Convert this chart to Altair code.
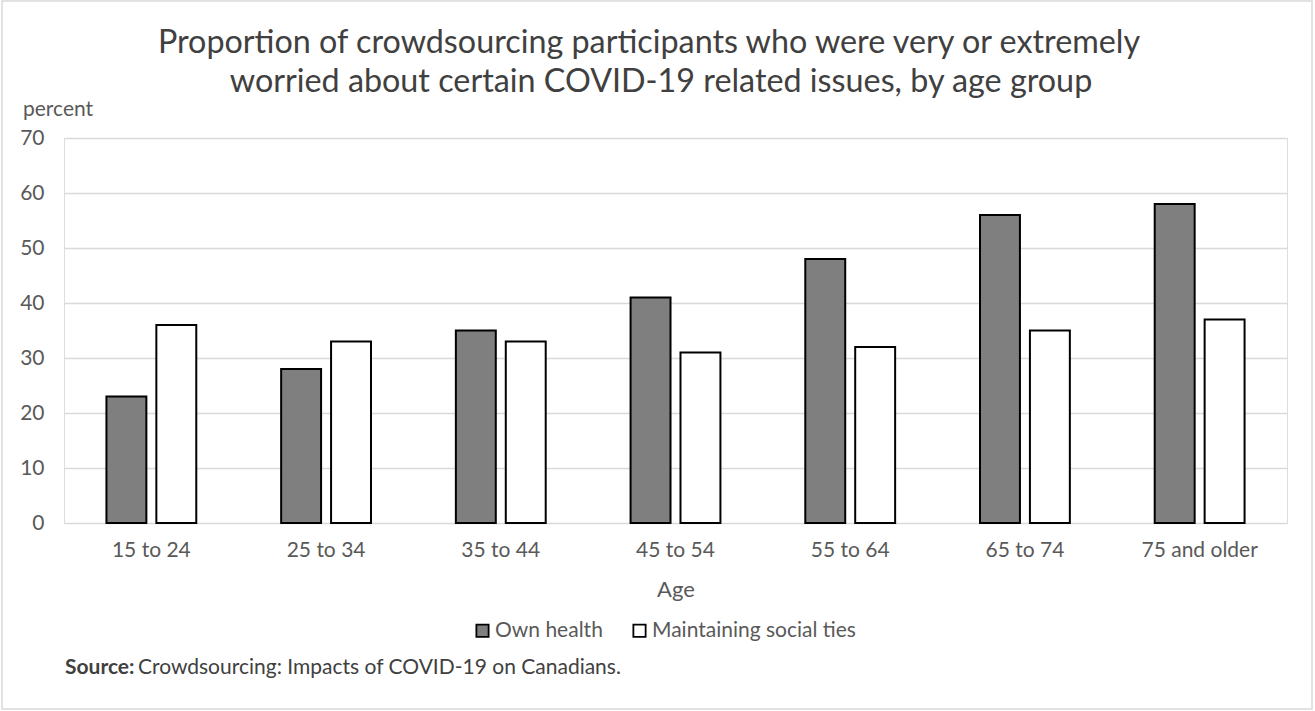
import altair as alt
import pandas as pd

ages = ["15 to 24", "25 to 34", "35 to 44", "45 to 54", "55 to 64", "65 to 74", "75 and older"]
series = ["Own health", "Maintaining social ties"]
own_health = [23, 28, 35, 41, 48, 56, 58]
social_ties = [36, 33, 33, 31, 32, 35, 37]
y_ticks = [0, 10, 20, 30, 40, 50, 60, 70]
title_lines = ["Proportion of crowdsourcing participants who were very or extremely",
               "worried about certain COVID-19 related issues, by age group"]

rows = []
for a, v in zip(ages, own_health):
    rows.append({"Age": a, "Series": series[0], "Value": v})
for a, v in zip(ages, social_ties):
    rows.append({"Age": a, "Series": series[1], "Value": v})
df = pd.DataFrame(rows)

FONT = "Lato"
W, H = 1223, 385

bars = alt.Chart(df).mark_bar(stroke="black", strokeWidth=2).encode(
    x=alt.X("Age:N", sort=ages,
            scale=alt.Scale(paddingInner=0, paddingOuter=0),
            axis=alt.Axis(title="Age", labelAngle=0, tickSize=0, domain=False,
                          labelFont=FONT, labelFontSize=21, labelColor="#595959",
                          labelPadding=16, titleFont=FONT, titleFontSize=22,
                          titleFontWeight="normal", titleColor="#595959",
                          titlePadding=19)),
    xOffset=alt.XOffset("Series:N", sort=series,
                        scale=alt.Scale(paddingInner=0.2, paddingOuter=0.85)),
    y=alt.Y("Value:Q", scale=alt.Scale(domain=[0, 70]),
            axis=alt.Axis(title=None, values=y_ticks, tickSize=0, domain=False,
                          grid=True, gridColor="#d9d9d9", gridWidth=1.5,
                          labelFont=FONT, labelFontSize=21, labelColor="#595959",
                          labelPadding=20)),
    color=alt.Color("Series:N", sort=series,
                    scale=alt.Scale(domain=series, range=["#7f7f7f", "#ffffff"]),
                    legend=alt.Legend(title=None, orient="none", direction="horizontal",
                                      legendX=408, legendY=482,
                                      symbolType="square", symbolSize=150,
                                      symbolStrokeColor="black", symbolStrokeWidth=1.8,
                                      labelFont=FONT, labelFontSize=21,
                                      labelColor="#595959", labelOffset=2,
                                      labelLimit=0, columnPadding=26)),
)

def text_layer(txt, x, y, size, color, weight="normal", align="left"):
    return alt.Chart(pd.DataFrame({"t": [txt]})).mark_text(
        font=FONT, fontSize=size, fontWeight=weight, color=color, align=align,
        baseline="alphabetic"
    ).encode(x=alt.value(x), y=alt.value(y), text="t:N")

title1 = text_layer(title_lines[0], 585, -85, 32.3, "#404040", align="center")
title2 = text_layer(title_lines[1], 597, -46, 32.3, "#404040", align="center")
percent = text_layer("percent", -41, -22, 21, "#595959")
src_bold = text_layer("Source:", 1, 536, 21, "#404040", weight="bold")
src_rest = text_layer("Crowdsourcing: Impacts of COVID-19 on Canadians.", 74, 536, 21, "#404040")

border = alt.Chart(pd.DataFrame({"k": [0]})).mark_rect(
    fill="transparent", stroke="#d9d9d9", strokeWidth=1.5
).encode(x=alt.value(-62), x2=alt.value(1248), y=alt.value(-137), y2=alt.value(571))

chart = alt.layer(border, bars, title1, title2, percent, src_bold, src_rest).properties(
    width=W, height=H,
    autosize=alt.AutoSizeParams(type="none"),
    padding={"left": 64, "top": 138, "right": 28, "bottom": 188},
).configure_view(stroke=None).configure(background="white")

chart.save("out.html", embed_options={"renderer": "svg", "actions": False})
